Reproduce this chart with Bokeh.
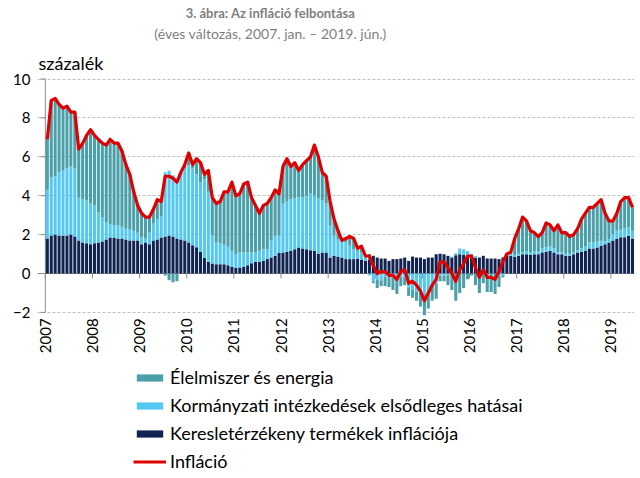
import numpy as np
from bokeh.plotting import figure
from bokeh.models import (FixedTicker, Legend, LegendItem, Span, Range1d, Label)
from bokeh.embed import file_html
from bokeh.resources import INLINE

# ---------------- data ----------------
years = [str(y) for y in range(2007, 2020)]
y_ticks = [-2, 0, 2, 4, 6, 8, 10]

inflation = [
    6.9, 8.9, 9.0, 8.7, 8.5, 8.6, 8.3, 8.3, 6.4, 6.7, 7.1, 7.4,
    7.1, 6.9, 6.7, 6.6, 6.9, 6.7, 6.7, 6.3, 5.6, 5.1, 4.2, 3.5,
    3.1, 2.9, 2.9, 3.3, 3.8, 3.7, 5.0, 5.0, 4.9, 4.7, 5.2, 5.6,
    6.2, 5.6, 5.9, 5.7, 5.1, 5.3, 3.9, 3.6, 3.7, 4.2, 4.2, 4.7,
    4.0, 4.1, 4.6, 4.7, 3.9, 3.5, 3.1, 3.5, 3.6, 3.9, 4.3, 4.1,
    5.5, 5.9, 5.5, 5.7, 5.3, 5.6, 5.8, 6.0, 6.6, 6.0, 5.2, 5.0,
    3.7, 2.8, 2.2, 1.7, 1.8, 1.9, 1.8, 1.3, 1.4, 0.9, 0.9, 0.4,
    0.0, 0.1, 0.1, -0.1, -0.1, -0.3, 0.1, 0.2, -0.5, -0.4, -0.6, -0.9,
    -1.4, -1.0, -0.6, -0.3, 0.6, 0.6, 0.3, 0.0, -0.4, 0.2, 0.5, 0.9,
    0.9, 0.3, -0.2, 0.2, -0.2, -0.2, -0.3, 0.1, 0.6, 1.0, 1.1, 1.8,
    2.3, 2.9, 2.7, 2.2, 2.1, 1.9, 2.1, 2.6, 2.5, 2.2, 2.5, 2.1,
    2.1, 1.9, 2.0, 2.3, 2.8, 3.1, 3.4, 3.4, 3.6, 3.8, 3.1, 2.7,
    2.7, 3.1, 3.7, 3.9, 3.9, 3.4,
]

core = [  # Keresletérzékeny termékek inflációja
    1.8, 1.95, 2.0, 1.95, 1.95, 1.95, 2.0, 1.9, 1.7, 1.6, 1.55, 1.5,
    1.55, 1.6, 1.65, 1.75, 1.85, 1.85, 1.8, 1.8, 1.75, 1.7, 1.7, 1.7,
    1.5, 1.6, 1.5, 1.7, 1.75, 1.85, 1.9, 1.95, 1.9, 1.8, 1.75, 1.7,
    1.6, 1.45, 1.35, 1.1, 0.8, 0.6, 0.52, 0.48, 0.48, 0.48, 0.43, 0.33,
    0.28, 0.31, 0.34, 0.43, 0.53, 0.6, 0.6, 0.65, 0.74, 0.82, 0.91, 1.05,
    1.08, 1.1, 1.17, 1.25, 1.34, 1.29, 1.25, 1.2, 1.17, 1.0, 1.08, 1.08,
    0.82, 0.91, 0.87, 0.82, 0.74, 0.74, 0.74, 0.77, 0.7, 0.65, 0.7, 0.91,
    0.82, 0.77, 0.77, 0.65, 0.74, 0.74, 0.77, 0.82, 0.65, 0.87, 0.82, 0.82,
    0.74, 0.82, 0.82, 0.99, 1.02, 0.99, 0.91, 0.82, 0.94, 0.99, 0.95, 0.91,
    0.82, 0.8, 0.82, 0.91, 0.77, 0.77, 0.77, 0.74, 0.82, 0.91, 0.91, 0.85,
    0.91, 0.99, 0.99, 0.95, 0.99, 0.99, 1.08, 1.1, 1.17, 1.08, 0.99, 0.99,
    0.91, 0.91, 0.99, 1.08, 1.1, 1.17, 1.29, 1.29, 1.34, 1.43, 1.51, 1.6,
    1.7, 1.77, 1.86, 1.86, 1.94, 1.8,
]

gov = [  # Kormányzati intézkedések elsődleges hatásai
    2.5, 3.0, 3.0, 3.25, 3.35, 3.45, 3.5, 3.5, 2.2, 2.2, 2.2, 2.1,
    1.95, 1.55, 1.25, 0.9, 0.7, 0.65, 0.65, 0.6, 0.55, 0.55, 0.5, 0.4,
    0.35, 0.2, 0.6, 0.9, 1.05, 1.1, 3.3, 3.35, 3.15, 2.9, 3.3, 3.7,
    3.95, 3.95, 3.75, 3.6, 4.05, 3.6, 1.43, 1.12, 1.07, 1.0, 0.95, 0.82,
    0.72, 0.77, 0.74, 0.65, 0.55, 0.5, 0.57, 0.6, 0.51, 0.88, 1.03, 0.89,
    2.5, 2.6, 2.63, 2.62, 2.58, 2.63, 2.75, 2.94, 2.83, 2.87, 2.67, 2.52,
    1.64, 1.03, 0.9, 0.88, 0.86, 0.69, 0.51, 0.4, 0.38, 0.17, -0.1, -0.4,
    -0.3, -0.35, -0.15, -0.15, -0.2, -0.15, -0.15, -0.2, -0.75, -0.85, -0.95, -1.0,
    -1.1, -1.0, -0.6, -0.5, -0.1, -0.1, -0.05, 0.05, 0.1, 0.3, 0.3, 0.25,
    0.2, 0.1, 0.0, 0.0, 0.0, 0.0, 0.0, -0.1, -0.1, 0.1, 0.1, 0.1,
    0.1, 0.12, 0.15, 0.15, 0.15, 0.17, 0.2, 0.25, 0.25, 0.2, 0.1, 0.1,
    0.1, 0.1, 0.1, 0.12, 0.2, 0.25, 0.3, 0.3, 0.3, 0.25, 0.15, 0.17,
    0.33, 0.43, 0.39, 0.47, 0.43, 0.4,
]

food_energy = [  # Élelmiszer és energia
    2.6, 3.95, 4.0, 3.5, 3.2, 3.2, 2.8, 2.9, 2.5, 2.9, 3.35, 3.8,
    3.6, 3.75, 3.8, 3.95, 4.35, 4.2, 4.25, 3.9, 3.3, 2.85, 2.0, 1.4,
    1.25, 1.1, 0.8, 0.7, 1.0, 0.75, -0.1, -0.35, -0.45, -0.4, 0.15, 0.2,
    0.65, 0.2, 0.8, 1.0, 0.25, 1.1, 1.95, 2.0, 2.15, 2.7, 2.8, 3.55,
    3.0, 3.0, 3.5, 3.6, 2.8, 2.4, 1.9, 2.25, 2.35, 2.2, 2.35, 2.15,
    1.9, 2.2, 1.7, 1.85, 1.4, 1.7, 1.8, 1.85, 2.6, 2.15, 1.45, 1.4,
    1.25, 0.85, 0.45, 0.0, 0.2, 0.45, 0.55, 0.15, 0.3, 0.1, 0.3, -0.1,
    -0.45, -0.3, -0.5, -0.55, -0.65, -0.9, -0.5, -0.4, -0.4, -0.4, -0.45, -0.7,
    -1.05, -0.8, -0.8, -0.8, -0.3, -0.3, -0.55, -0.85, -1.4, -1.0, -0.75, -0.3,
    -0.1, -0.6, -1.0, -0.5, -0.95, -0.95, -1.05, -0.6, -0.1, 0.0, 0.1, 0.85,
    1.3, 1.8, 1.55, 1.1, 0.95, 0.75, 0.8, 1.25, 1.1, 0.9, 1.4, 1.0,
    1.1, 0.9, 0.9, 1.1, 1.5, 1.7, 1.8, 1.8, 1.95, 2.1, 1.45, 0.95,
    0.65, 0.9, 1.45, 1.55, 1.55, 1.2,
]

# ---------------- styles / geometry ----------------
C_FOOD = "#4a9fa8"
C_GOV = "#55c8f2"
C_CORE = "#112350"
C_LINE = "#e00000"
C_AXIS = "#8c8c8c"
FONT = "Lato"

FIG_W, FIG_H = 640, 478
BORDER_L, BORDER_R = 37, 6
PX_PER_UNIT = 19.45       # vertical pixels per percentage point
TOP_PX = 78.5             # pixel row of the 10 % line
PX_PER_MONTH = (FIG_W - BORDER_L - BORDER_R) / 152.0

n = len(inflation)
xs = np.arange(n) + 0.5
y_top = 10 + TOP_PX / PX_PER_UNIT
y_bot = 10 - (FIG_H - TOP_PX) / PX_PER_UNIT


def stack(series_list):
    pos = np.zeros(n)
    neg = np.zeros(n)
    out = []
    for s in series_list:
        s = np.asarray(s, dtype=float)
        bottom = np.where(s >= 0, pos, neg + s)
        top = np.where(s >= 0, pos + s, neg)
        pos = np.where(s >= 0, pos + s, pos)
        neg = np.where(s < 0, neg + s, neg)
        out.append((bottom, top))
    return out


(core_b, core_t), (gov_b, gov_t), (food_b, food_t) = stack([core, gov, food_energy])

p = figure(width=FIG_W, height=FIG_H, x_range=Range1d(-2, n), y_range=Range1d(y_bot, y_top),
           output_backend="svg", toolbar_location=None, title=None,
           min_border_left=BORDER_L, min_border_right=BORDER_R, min_border_top=0,
           min_border_bottom=0)
p.outline_line_color = None
p.background_fill_color = "white"
p.border_fill_color = "white"
p.xaxis.visible = False

# grid
p.xgrid.visible = False
p.ygrid.ticker = FixedTicker(ticks=y_ticks)
p.ygrid.grid_line_color = "#bfbfbf"
p.ygrid.grid_line_dash = "3 2"
p.ygrid.grid_line_width = 1

# y axis: labels from Bokeh, line and ticks drawn at x = 0
p.yaxis.ticker = FixedTicker(ticks=y_ticks)
p.yaxis.axis_line_color = None
p.yaxis.major_tick_line_color = None
p.yaxis.major_tick_out = 0
p.yaxis.major_tick_in = 0
p.yaxis.minor_tick_line_color = None
p.yaxis.major_label_text_font = FONT
p.yaxis.major_label_text_font_size = "15px"
p.yaxis.major_label_text_color = "black"
p.yaxis.major_label_standoff = 7

p.segment(x0=[0], y0=[min(y_ticks)], x1=[0], y1=[max(y_ticks)],
          line_color=C_AXIS, line_width=1)
p.segment(x0=[-5 / PX_PER_MONTH] * len(y_ticks), y0=y_ticks, x1=[0] * len(y_ticks),
          y1=y_ticks, line_color=C_AXIS, line_width=1)

# year labels under the plot area
year_ticks = [12 * i for i in range(len(years))]
p.text(x=year_ticks, y=[min(y_ticks) - 6 / PX_PER_UNIT] * len(years), text=years,
       angle=np.pi / 2, text_align="right", text_baseline="middle",
       text_font={"value": FONT}, text_font_size="15px", text_color="black")

# zero line and year ticks on it
p.add_layout(Span(location=0, dimension="width", line_color=C_AXIS,
                  line_width=1, level="underlay"))
p.segment(x0=year_ticks, y0=[0] * len(year_ticks), x1=year_ticks,
          y1=[-5 / PX_PER_UNIT] * len(year_ticks), line_color=C_AXIS, line_width=1)

W = 0.78
r_core = p.vbar(x=xs, bottom=core_b, top=core_t, width=W, fill_color=C_CORE, line_color=None)
r_gov = p.vbar(x=xs, bottom=gov_b, top=gov_t, width=W, fill_color=C_GOV, line_color=None)
r_food = p.vbar(x=xs, bottom=food_b, top=food_t, width=W, fill_color=C_FOOD, line_color=None)
r_line = p.line(xs, inflation, line_color=C_LINE, line_width=3.2, line_join="round")

legend = Legend(items=[
    LegendItem(label="Élelmiszer és energia", renderers=[r_food]),
    LegendItem(label="Kormányzati intézkedések elsődleges hatásai", renderers=[r_gov]),
    LegendItem(label="Keresletérzékeny termékek inflációja", renderers=[r_core]),
    LegendItem(label="Infláció", renderers=[r_line]),
], location=(96, 6))
legend.border_line_color = None
legend.background_fill_alpha = 0
legend.padding = 0
legend.margin = 0
legend.spacing = 6
legend.glyph_width = 33
legend.glyph_height = 9
legend.label_height = 21
legend.label_standoff = 4
legend.label_text_font = FONT
legend.label_text_font_size = "18px"
legend.label_text_color = "black"
p.add_layout(legend, "center")

# titles (screen units: measured from the frame's left and bottom edges)
p.add_layout(Label(x=270 - BORDER_L, y=FIG_H - 12, x_units="screen", y_units="screen",
                   text="3. ábra: Az infláció felbontása", text_align="center",
                   text_baseline="middle", text_font=FONT, text_font_style="bold",
                   text_font_size="13px", text_color="#7f7f7f"))
p.add_layout(Label(x=270 - BORDER_L, y=FIG_H - 33, x_units="screen", y_units="screen",
                   text="(éves változás, 2007. jan. – 2019. jún.)", text_align="center",
                   text_baseline="middle", text_font=FONT,
                   text_font_size="14px", text_color="#7f7f7f"))
p.add_layout(Label(x=38 - BORDER_L, y=FIG_H - 62, x_units="screen", y_units="screen",
                   text="százalék", text_align="left",
                   text_baseline="middle", text_font=FONT,
                   text_font_size="18px", text_color="black"))

open("out.html", "w").write(file_html(p, INLINE))
